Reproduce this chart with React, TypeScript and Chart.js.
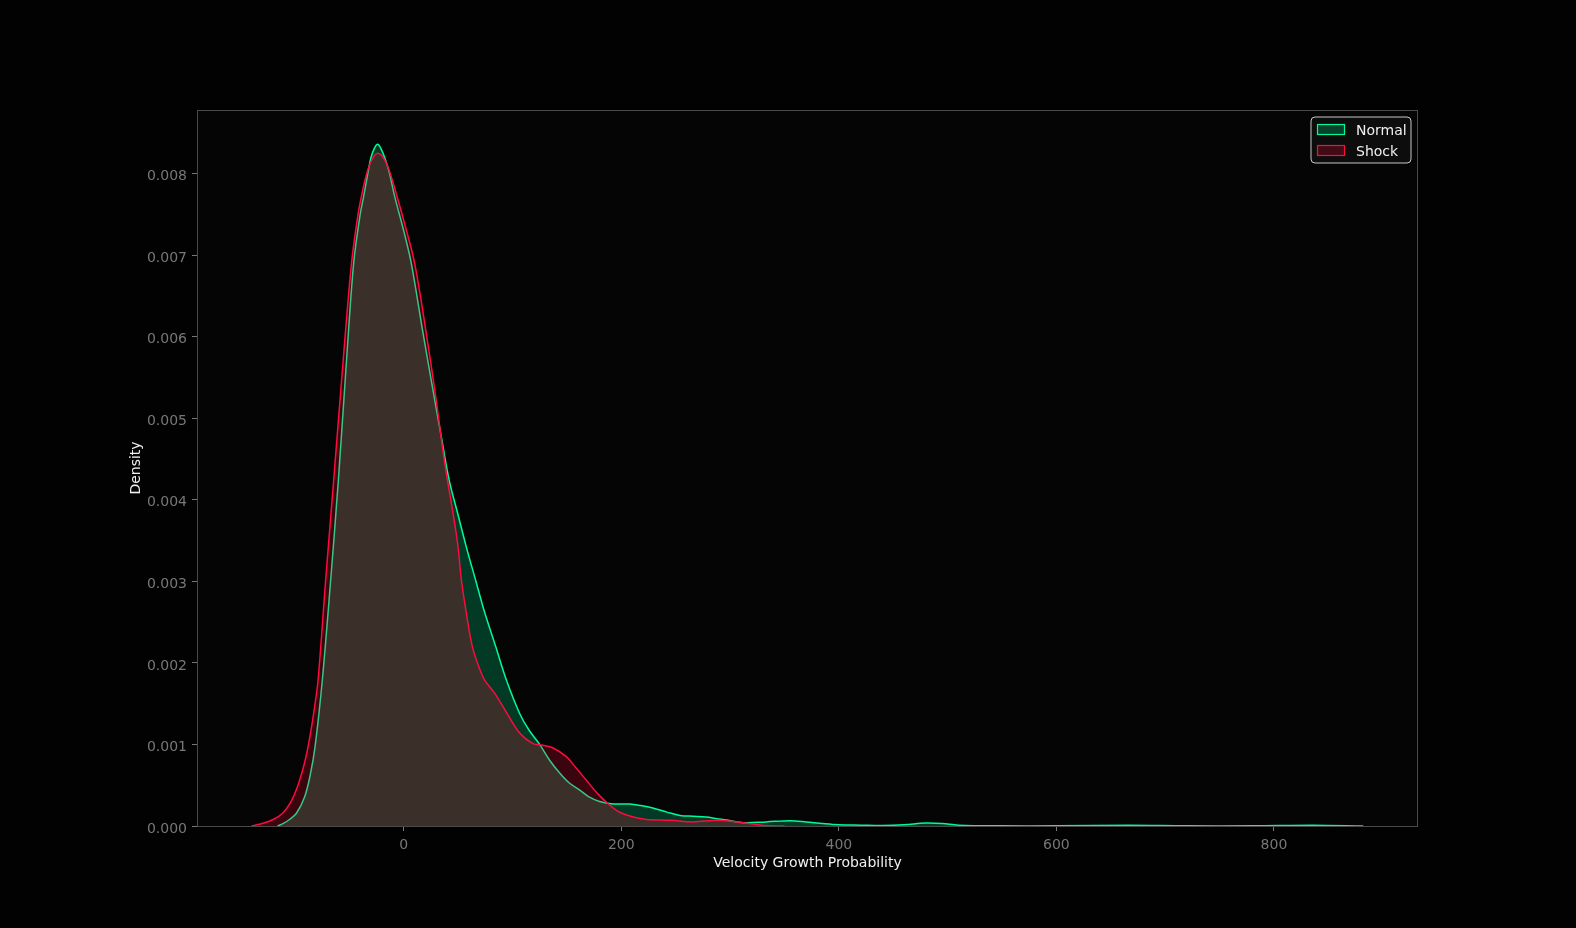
import React, { useEffect, useRef } from "react";
import { Chart, registerables } from "chart.js";

Chart.register(...registerables);

const normalX = [-116, -111, -105, -98.6, -91, -86, -81.5, -74.8, -67.1, -60, -52.7, -46, -40, -36.8, -33, -30, -27, -24, -21, -17, -13, -8.3, 0, 7, 17.2, 27.9, 35, 42, 49.9, 57.6, 66.2, 74.4, 84.6, 94.4, 106.6, 115, 125, 134, 143.4, 152, 161.8, 170, 180, 192.4, 208, 218, 229, 242, 254, 266, 278, 288, 297, 312, 333, 355, 370, 385, 400, 420, 440, 460, 480, 495, 510, 550, 600, 667, 720, 780, 836, 882];
const normalY = [0, 0.00003, 0.00008, 0.000156, 0.00036, 0.00062, 0.00097, 0.00179, 0.00302, 0.00425, 0.00568, 0.0069, 0.0075, 0.00772, 0.008, 0.0082, 0.00831, 0.00836, 0.00831, 0.00818, 0.008, 0.00772, 0.0073, 0.0069, 0.00609, 0.00527, 0.00474, 0.00423, 0.00382, 0.00342, 0.00301, 0.00262, 0.0022, 0.00179, 0.00138, 0.00118, 0.001, 0.00081, 0.00065, 0.00053, 0.00044, 0.00036, 0.0003, 0.00027, 0.00027, 0.00025, 0.00022, 0.00017, 0.00013, 0.00012, 0.00011, 0.00009, 0.000074, 0.00004, 0.00005, 0.000065, 0.00005, 0.00003, 0.000015, 0.00001, 0.000006, 0.000015, 0.000036, 0.00003, 0.00001, 0.000002, 0.000002, 0.00001, 0.000002, 0.000002, 0.00001, 0];

const shockX = [-140, -130, -120, -111, -104, -98, -93, -89, -85.5, -82, -78.7, -71.7, -64.3, -55.8, -48, -42, -38.9, -35, -31, -27, -24, -20, -15, -10, -6.1, 2, 10.1, 20.2, 29.4, 37.7, 45.3, 49.9, 53, 57.6, 63.1, 69.2, 74.4, 83.6, 95, 106.6, 118.8, 128, 137, 149.5, 158, 168, 178, 189, 197, 205, 214, 223, 245, 266, 290, 312, 333, 350];
const shockY = [0, 0.00003, 0.00008, 0.00016, 0.00029, 0.00047, 0.00068, 0.0009, 0.00115, 0.00145, 0.00179, 0.00302, 0.00425, 0.00568, 0.0069, 0.0075, 0.00772, 0.00795, 0.00812, 0.00822, 0.00825, 0.00822, 0.0081, 0.0079, 0.00772, 0.00733, 0.0069, 0.00609, 0.00527, 0.00445, 0.00384, 0.00343, 0.00302, 0.00261, 0.0022, 0.00195, 0.00179, 0.00163, 0.00138, 0.00114, 0.00101, 0.00099, 0.00096, 0.00085, 0.00072, 0.00056, 0.0004, 0.00026, 0.00018, 0.000135, 0.0001, 0.00008, 0.00007, 0.00005, 0.00007, 0.00004, 0.000005, 0];

const seriesNames = ["Normal", "Shock"];
const xTicks = [0, 200, 400, 600, 800];
const yTicks = [0, 0.001, 0.002, 0.003, 0.004, 0.005, 0.006, 0.007, 0.008];

const GREEN = "#00fa9a";
const RED = "#ff0a3c";
const FONT = "'DejaVu Sans', sans-serif";

export default function App() {
  const ref = useRef<HTMLCanvasElement | null>(null);

  useEffect(() => {
    const canvas = ref.current;
    if (!canvas) return;

    const decor = {
      id: "decor",
      beforeDraw(chart: any) {
        const { ctx, chartArea: a } = chart;
        ctx.save();
        ctx.fillStyle = "#020202";
        ctx.fillRect(0, 0, chart.width, chart.height);
        ctx.fillStyle = "#050505";
        ctx.fillRect(a.left, a.top, a.right - a.left, a.bottom - a.top);
        ctx.restore();
      },
      afterDraw(chart: any) {
        const { ctx, chartArea: a } = chart;
        ctx.save();
        ctx.strokeStyle = "#4a4a4a";
        ctx.lineWidth = 1;
        ctx.strokeRect(a.left + 0.5, a.top + 0.5, a.right - a.left - 1, a.bottom - a.top);
        ctx.fillStyle = "#f0f0f0";
        ctx.font = `14px ${FONT}`;
        ctx.textAlign = "center";
        ctx.textBaseline = "middle";
        ctx.fillText("Velocity Growth Probability", (a.left + a.right) / 2, 863);
        ctx.save();
        ctx.translate(136, (a.top + a.bottom) / 2);
        ctx.rotate(-Math.PI / 2);
        ctx.fillText("Density", 0, 0);
        ctx.restore();
        const lx = 1311, ly = 117, lw = 100, lh = 46, r = 4;
        ctx.beginPath();
        ctx.moveTo(lx + r, ly);
        ctx.lineTo(lx + lw - r, ly);
        ctx.quadraticCurveTo(lx + lw, ly, lx + lw, ly + r);
        ctx.lineTo(lx + lw, ly + lh - r);
        ctx.quadraticCurveTo(lx + lw, ly + lh, lx + lw - r, ly + lh);
        ctx.lineTo(lx + r, ly + lh);
        ctx.quadraticCurveTo(lx, ly + lh, lx, ly + lh - r);
        ctx.lineTo(lx, ly + r);
        ctx.quadraticCurveTo(lx, ly, lx + r, ly);
        ctx.closePath();
        ctx.fillStyle = "rgba(14,14,14,0.9)";
        ctx.fill();
        ctx.strokeStyle = "#c8c8c8";
        ctx.lineWidth = 1;
        ctx.stroke();
        const entries = [
          { name: seriesNames[0], color: GREEN, fill: "rgba(0,250,154,0.22)", y: 124 },
          { name: seriesNames[1], color: RED, fill: "rgba(255,10,60,0.22)", y: 145 },
        ];
        ctx.textAlign = "left";
        for (const e of entries) {
          ctx.fillStyle = e.fill;
          ctx.fillRect(1317.5, e.y + 0.5, 27, 10);
          ctx.strokeStyle = e.color;
          ctx.lineWidth = 1.2;
          ctx.strokeRect(1317.5, e.y + 0.5, 27, 10);
          ctx.fillStyle = "#f0f0f0";
          ctx.font = `14px ${FONT}`;
          ctx.fillText(e.name, 1356, e.y + 7);
        }
        ctx.restore();
      },
    };

    const chart = new Chart(canvas, {
      type: "line",
      data: {
        datasets: [
          {
            label: seriesNames[0],
            data: normalX.map((x, i) => ({ x, y: normalY[i] })),
            borderColor: GREEN,
            backgroundColor: "rgba(0,250,154,0.22)",
            borderWidth: 1.5,
            fill: "origin",
            pointRadius: 0,
            tension: 0.35,
            order: 2,
          },
          {
            label: seriesNames[1],
            data: shockX.map((x, i) => ({ x, y: shockY[i] })),
            borderColor: RED,
            backgroundColor: "rgba(255,10,60,0.22)",
            borderWidth: 1.5,
            fill: "origin",
            pointRadius: 0,
            tension: 0.35,
            order: 1,
          },
        ],
      },
      options: {
        animation: false,
        responsive: false,
        devicePixelRatio: 1,
        layout: { padding: { top: 110, right: 158, left: 0, bottom: 0 } },
        plugins: {
          legend: { display: false },
          tooltip: { enabled: false },
        },
        scales: {
          x: {
            type: "linear",
            min: -190,
            max: 932.4,
            afterBuildTicks: (s: any) => {
              s.ticks = xTicks.map((v) => ({ value: v }));
            },
            afterFit: (s: any) => {
              s.height = 102;
            },
            grid: { drawOnChartArea: false, drawTicks: true, tickLength: 5, color: "#777" },
            border: { display: false },
            ticks: {
              color: "#777",
              font: { family: FONT, size: 14 },
              padding: 6,
              maxRotation: 0,
              callback: (v: any) => String(v),
            },
          },
          y: {
            type: "linear",
            min: 0,
            max: 0.00878,
            afterBuildTicks: (s: any) => {
              s.ticks = yTicks.map((v) => ({ value: v }));
            },
            afterFit: (s: any) => {
              s.width = 197;
            },
            grid: { drawOnChartArea: false, drawTicks: true, tickLength: 5, color: "#777" },
            border: { display: false },
            ticks: {
              color: "#777",
              font: { family: FONT, size: 14 },
              padding: 5,
              labelOffset: 3,
              callback: (v: any) => Number(v).toFixed(3),
            },
          },
        },
      },
      plugins: [decor],
    } as any);

    return () => chart.destroy();
  }, []);

  return (
    <div style={{ position: "fixed", left: 0, top: 0, width: 1576, height: 928, background: "#020202" }}>
      <canvas ref={ref} width={1576} height={928} style={{ display: "block", width: 1576, height: 928 }} />
    </div>
  );
}
